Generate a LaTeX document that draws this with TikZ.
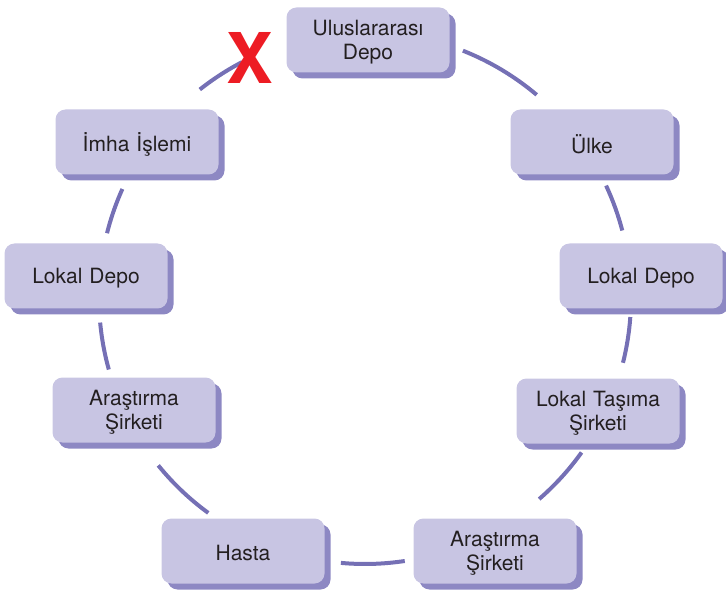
\documentclass[tikz,border=0pt]{standalone}
\usepackage{fontspec}
\setmainfont{TeX Gyre Heros}
\usetikzlibrary{shadows}
\definecolor{boxfill}{HTML}{C8C5E3}
\definecolor{boxshadow}{HTML}{8D88C3}
\definecolor{arcline}{HTML}{7570B5}
\definecolor{txt}{HTML}{231F20}
\definecolor{xred}{HTML}{ED1C24}
\begin{document}
\begin{tikzpicture}[x=1pt,y=1pt,
  stepbox/.style={rectangle, rounded corners=10pt, fill=boxfill,
    minimum width=163pt, minimum height=65pt, inner sep=0pt,
    drop shadow={shadow xshift=6pt, shadow yshift=-6pt, fill=boxshadow, opacity=1}},
  boxlabel/.style={inner sep=0pt, text width=160pt, align=center, text=txt,
    font=\fontsize{21}{24}\selectfont},
  ring/.style={draw=arcline, line width=4pt}
]
\useasboundingbox (0,0) rectangle (726,590);
\coordinate (c) at (365,292);

\foreach \n/\x/\y/\t in {
    uluslar/368/550/{Uluslararası\\Depo},
    ulke/592/448/{Ülke},
    ldr/641/314/{Lokal Depo},
    lts/598/179/{Lokal Taşıma\\Şirketi},
    arr/495/39/{Araştırma\\Şirketi},
    hasta/243/39/{Hasta},
    arl/134/180/{Araştırma\\Şirketi},
    ldl/86/314/{Lokal Depo},
    imha/137/448/{İmha İşlemi}}{
  \node[stepbox] (\n) at (\x,\y) {};
  \node[boxlabel] (\n-t) at ([yshift=-2.5pt]\n.center) {\t};
}

\foreach \a/\b in {68.4/49.8, 25.0/14.7, -4.1/-14.1, -35.5/-49.1,
                   -81.4/-95.2, -126.1/-141.0, 185.3/195.6, 155.8/165.9, 128.4/117.5}
  \draw[ring] ([shift={(\a:266)}]c) arc[start angle=\a, end angle=\b, radius=266];

\node[text=xred, font=\fontsize{70}{70}\selectfont\bfseries, inner sep=0pt] (cross) at (249.5,532) {X};
\end{tikzpicture}
\end{document}
